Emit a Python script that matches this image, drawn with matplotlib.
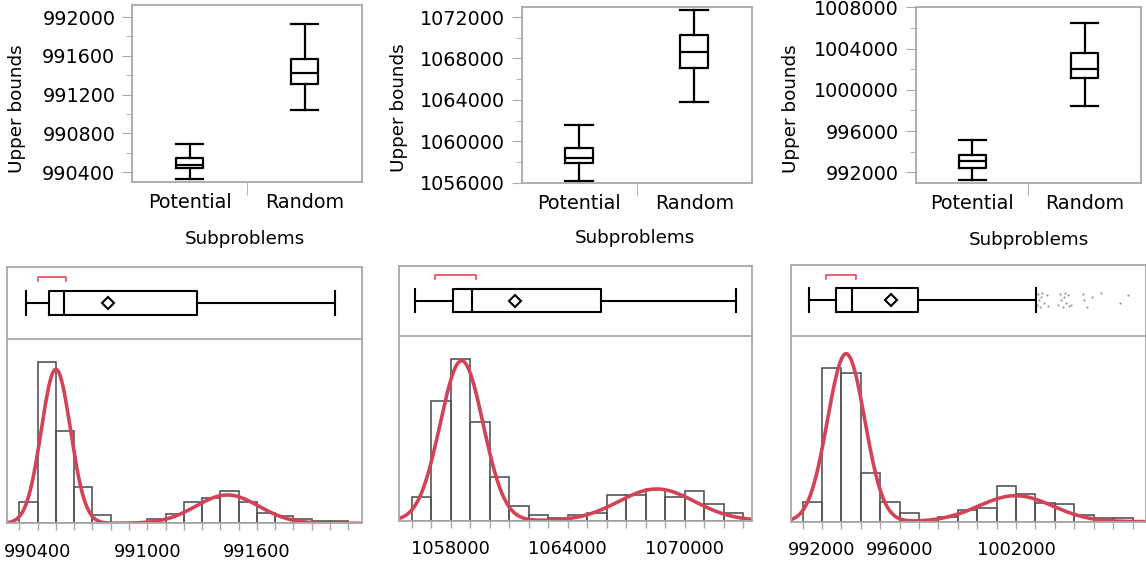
import matplotlib
matplotlib.use('Agg')
import matplotlib.pyplot as plt
import numpy as np

plt.rcParams['font.family'] = ['DejaVu Sans']

# ---- data ----
groups = ['Potential', 'Random']

# top box plots: whisker low, q1, median, q3, whisker high
top1_potential = [990328, 990438, 990476, 990544, 990689]
top1_random = [991037, 991308, 991419, 991563, 991928]
top2_potential = [1056135, 1057870, 1058360, 1059380, 1061600]
top2_random = [1063820, 1067046, 1068590, 1070290, 1072680]
top3_potential = [991250, 992450, 993120, 993650, 995160]
top3_random = [998430, 1001150, 1002030, 1003540, 1006450]

top1_yticks = [990400, 990800, 991200, 991600, 992000]
top2_yticks = [1056000, 1060000, 1064000, 1068000, 1072000]
top3_yticks = [992000, 996000, 1000000, 1004000, 1008000]

# histograms (bar heights, no y scale shown)
hist1_start, hist1_width = 990300, 100
hist1_heights = [21.7, 161.7, 92.7, 36.7, 8.3, 0, 0, 4, 9.7, 21.7, 25, 32.3,
                 21.7, 10.7, 7.3, 4, 2.3, 2]
hist2_start, hist2_width = 1056000, 1000
hist2_heights = [24, 119.3, 161.7, 98.3, 43.3, 15, 5.7, 3, 6, 8, 25.7, 25.7,
                 31.5, 24, 29.7, 17, 8]
hist3_start, hist3_width = 991000, 1000
hist3_heights = [20, 154, 148.3, 48.3, 20, 9, 1.5, 4.3, 11.7, 14, 35.3, 28,
                 19, 17.5, 7, 3.5, 3.5]

# fitted two-component normal mixtures: mean, sd, peak height
fit1 = [(990500, 80, 154), (991438, 172, 28.3)]
fit2 = [(1058564, 1100, 160), (1068564, 1950, 31.7)]
fit3 = [(993240, 960, 168), (1001974, 1900, 26)]

# bottom outlier box plots: whisker low, q1, median, q3, whisker high, mean
box1 = [990336, 990464, 990542, 991270, 992028, 990783]
box2 = [1056172, 1058100, 1059115, 1065690, 1072644, 1061301]
box3 = [991344, 992736, 993544, 996930, 1003049, 995555]
# shortest half
short1 = [990404, 990555]
short2 = [1057205, 1059322]
short3 = [992186, 993750]
outliers3 = [1003100, 1003150, 1003200, 1003250, 1003300, 1003350, 1003450,
             1003600, 1003650, 1004150, 1004250, 1004300, 1004400, 1004450,
             1004500, 1004550, 1004650, 1004750, 1004850, 1005450, 1005500,
             1005650, 1005900, 1006400, 1007350, 1007750]

hist1_labels = [990400, 991000, 991600]
hist2_labels = [1058000, 1064000, 1070000]
hist3_labels = [992000, 996000, 1002000]

# ---- layout helpers ----
W, H = 1146, 563
GRAY = '#a8a8a8'
RED = '#d34357'

fig = plt.figure(figsize=(W / 100, H / 100), dpi=100)


def box_px(x0, y0, x1, y1):
    return [x0 / W, 1 - y1 / H, (x1 - x0) / W, (y1 - y0) / H]


def make_stats(vals, label):
    return dict(whislo=vals[0], q1=vals[1], med=vals[2], q3=vals[3],
                whishi=vals[4], fliers=[], label=label)


def draw_top(rect, potential, random_, yticks, ylim, ylab_xy, xlab_xy):
    ax = fig.add_axes(box_px(*rect))
    line = dict(color='black', linewidth=1.6)
    ax.bxp([make_stats(potential, groups[0]), make_stats(random_, groups[1])],
           positions=[1, 2], widths=0.24, capwidths=0.24, showfliers=False,
           boxprops=line, whiskerprops=line, capprops=line, medianprops=line)
    ax.set_yticks(yticks)
    ax.set_yticklabels([str(t) for t in yticks])
    step = yticks[1] - yticks[0]
    ax.set_yticks(np.arange(yticks[0] - step, yticks[-1] + step, step / 2), minor=True)
    ax.set_xticks([1.5], minor=True)
    # limits after the ticks, set_yticks would widen them
    ax.set_xlim(0.5, 2.5)
    ax.set_ylim(*ylim)
    ax.tick_params(axis='y', which='major', length=7, color=GRAY, labelsize=13.8, pad=5)
    ax.tick_params(axis='y', which='minor', length=4, color=GRAY)
    ax.tick_params(axis='x', which='major', length=0, labelsize=13.8, pad=8)
    ax.tick_params(axis='x', which='minor', length=9, color=GRAY)
    for s in ax.spines.values():
        s.set_color(GRAY)
        s.set_linewidth(1.3)
    fig.text(ylab_xy[0] / W, 1 - ylab_xy[1] / H, 'Upper bounds', rotation=90,
             ha='center', va='center', fontsize=13.2)
    fig.text(xlab_xy[0] / W, 1 - xlab_xy[1] / H, 'Subproblems',
             ha='center', va='center', fontsize=13.2)


def draw_bottom(x0, x1, ytop, ydiv, ybase, xlim, start, width, heights, fit,
                box, short, labels, outliers=None):
    # histogram part
    ax = fig.add_axes(box_px(x0, ydiv, x1, ybase))
    edges = start + width * np.arange(len(heights))
    ax.bar(edges, heights, width=width, align='edge', facecolor='none',
           edgecolor='#555555', linewidth=1.2)
    xs = np.linspace(xlim[0], xlim[1], 600)
    ys = np.zeros_like(xs)
    for m, sd, peak in fit:
        ys += peak * np.exp(-0.5 * ((xs - m) / sd) ** 2)
    ax.plot(xs, ys, color=RED, linewidth=2.6)
    ax.set_yticks([])
    ax.set_xticks(labels)
    ax.set_xticklabels([str(t) for t in labels])
    ax.set_xticks(start + width * np.arange(len(heights) + 1), minor=True)
    ax.set_xlim(*xlim)
    ax.set_ylim(0, ybase - ydiv)
    ax.tick_params(axis='x', which='both', length=5, color=GRAY, width=1,
                   labelsize=12.8, pad=9)
    ax.spines['top'].set_visible(False)
    for s in ['left', 'right', 'bottom']:
        ax.spines[s].set_color(GRAY)
        ax.spines[s].set_linewidth(1.3)

    # box plot part
    bx = fig.add_axes(box_px(x0, ytop, x1, ydiv))
    line = dict(color='black', linewidth=1.5)
    stats = dict(whislo=box[0], q1=box[1], med=box[2], q3=box[3], whishi=box[4],
                 mean=box[5], fliers=[])
    bx.bxp([stats], positions=[0.506], widths=0.34, capwidths=0.34,
           orientation='horizontal', showmeans=True, showfliers=False,
           boxprops=line, whiskerprops=line, capprops=line, medianprops=line,
           meanprops=dict(marker='D', markersize=6.5, markerfacecolor='white',
                          markeredgecolor='black', markeredgewidth=1.5))
    bx.plot([short[0], short[0], short[1], short[1]], [0.81, 0.87, 0.87, 0.81],
            color='#e8455a', linewidth=1.2)
    if outliers is not None:
        jitter = np.tile([-0.06, 0.09, 0.0, -0.1, 0.05, 0.11, -0.03, 0.07, -0.08], 4)
        bx.scatter(outliers, 0.506 + jitter[:len(outliers)], s=2.5,
                   color='#999999', linewidths=0)
    bx.set_xticks([])
    bx.set_yticks([])
    bx.set_xlim(*xlim)
    bx.set_ylim(0, 1)
    for s in bx.spines.values():
        s.set_color(GRAY)
        s.set_linewidth(1.3)


draw_top((132, 5, 362, 182), top1_potential, top1_random, top1_yticks,
         (990297, 992124), (17, 109), (245, 239))
draw_top((521.7, 6.7, 751.7, 182.7), top2_potential, top2_random, top2_yticks,
         (1056000, 1072995), (399.5, 107.5), (635, 238))
draw_top((915.7, 7.3, 1141, 182.7), top3_potential, top3_random, top3_yticks,
         (990991, 1008000), (790.8, 109), (1028.7, 240))

draw_bottom(7.3, 362, 267.3, 339, 523.3, (990234, 992175),
            hist1_start, hist1_width, hist1_heights, fit1, box1, short1, hist1_labels)
draw_bottom(399.3, 752.3, 266, 336, 520.7, (1055368, 1073470),
            hist2_start, hist2_width, hist2_heights, fit2, box2, short2, hist2_labels)
draw_bottom(790.7, 1145.7, 265.3, 336.3, 521.7, (990383, 1008680),
            hist3_start, hist3_width, hist3_heights, fit3, box3, short3, hist3_labels,
            outliers=outliers3)

fig.savefig('out.png', dpi=100)
